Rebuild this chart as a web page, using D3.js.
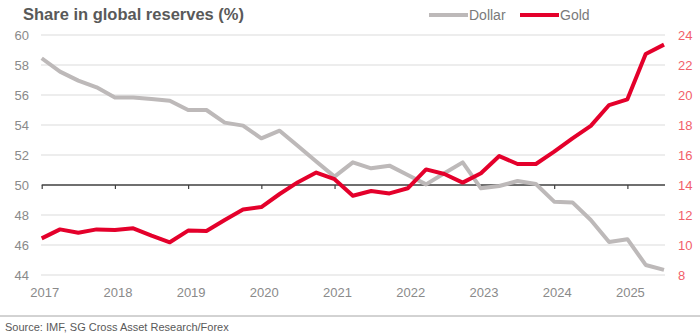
<!DOCTYPE html>
<html>
<head>
<meta charset="utf-8">
<script src="https://cdn.jsdelivr.net/npm/d3@7"></script>
<style>
  html, body { margin: 0; padding: 0; background: #fff; }
  svg { display: block; font-family: "Liberation Sans", Arial, sans-serif; }
</style>
</head>
<body>
<div id="chart"></div>
<script>
// Quarter-end observations (YYYY-MM)
const quarters = [
  "2016-12", "2017-03", "2017-06", "2017-09", "2017-12",
  "2018-03", "2018-06", "2018-09", "2018-12",
  "2019-03", "2019-06", "2019-09", "2019-12",
  "2020-03", "2020-06", "2020-09", "2020-12",
  "2021-03", "2021-06", "2021-09", "2021-12",
  "2022-03", "2022-06", "2022-09", "2022-12",
  "2023-03", "2023-06", "2023-09", "2023-12",
  "2024-03", "2024-06", "2024-09", "2024-12",
  "2025-03", "2025-06"
];

// Dollar share, left axis (%)
const dollar = [
  58.45, 57.56, 56.96, 56.51, 55.84, 55.84, 55.73, 55.62, 55.0, 55.0,
  54.16, 53.96, 53.11, 53.62, 52.6, 51.56, 50.56, 51.51, 51.11, 51.29,
  50.67, 50.04, 50.78, 51.51, 49.78, 49.93, 50.27, 50.07, 48.89, 48.84,
  47.67, 46.2, 46.39, 44.67, 44.34
];

// Gold share, right axis (%)
const gold = [
  10.44, 11.04, 10.82, 11.04, 11.0, 11.11, 10.62, 10.18, 10.96, 10.93,
  11.67, 12.36, 12.53, 13.4, 14.19, 14.83, 14.39, 13.28, 13.6, 13.44,
  13.78, 15.04, 14.73, 14.16, 14.78, 15.93, 15.4, 15.4, 16.22, 17.11,
  17.94, 19.33, 19.71, 22.73, 23.36
];

const leftTicks = [44, 46, 48, 50, 52, 54, 56, 58, 60];
const rightTicks = [8, 10, 12, 14, 16, 18, 20, 22, 24];
const yearTicks = [2017, 2018, 2019, 2020, 2021, 2022, 2023, 2024, 2025];

const width = 700;
const height = 334;

const dollarColor = "#bdb9b9";
const goldColor = "#e4002b";

const svg = d3.select("#chart")
  .append("svg")
  .attr("width", width)
  .attr("height", height);

// decimal year of a quarter-end month, e.g. 2016-12 -> 2017.0
const toYear = s => {
  const [y, m] = s.split("-").map(Number);
  return y + m / 12;
};

const x = d3.scaleLinear()
  .domain([2017, 2025.5])
  .range([41.7, 664]);

const yLeft = d3.scaleLinear()
  .domain([44, 60])
  .range([275, 35]);

const yRight = d3.scaleLinear()
  .domain([8, 24])
  .range([275, 35]);

// Horizontal grid lines
svg.append("g")
  .selectAll("line")
  .data(leftTicks.filter(t => t !== 50))
  .join("line")
  .attr("x1", 41)
  .attr("x2", 665)
  .attr("y1", d => yLeft(d))
  .attr("y2", d => yLeft(d))
  .attr("stroke", "#dcdcdc")
  .attr("stroke-width", 1.2);

// Left axis labels
svg.append("g")
  .selectAll("text")
  .data(leftTicks)
  .join("text")
  .attr("x", 29)
  .attr("y", d => yLeft(d))
  .attr("dy", "0.35em")
  .attr("text-anchor", "end")
  .attr("fill", "#8a8a8a")
  .attr("font-size", 13)
  .text(d => d);

// Right axis labels
svg.append("g")
  .selectAll("text")
  .data(rightTicks)
  .join("text")
  .attr("x", 678)
  .attr("y", d => yRight(d))
  .attr("dy", "0.35em")
  .attr("text-anchor", "start")
  .attr("fill", "#f2606a")
  .attr("font-size", 13)
  .text(d => d);

// Category axis crossing at 50
const xAxis = d3.axisBottom(x)
  .tickValues(yearTicks)
  .tickSize(4)
  .tickSizeOuter(0)
  .tickFormat("");

svg.append("g")
  .attr("transform", `translate(0, ${yLeft(50)})`)
  .call(xAxis)
  .call(g => g.select(".domain").attr("stroke", "#3f3f3f").attr("stroke-width", 1.4)
    .attr("d", `M${x(2017)},0H665`))
  .call(g => g.selectAll(".tick line").attr("stroke", "#3f3f3f").attr("stroke-width", 1.2));

// Year labels along the bottom
svg.append("g")
  .selectAll("text")
  .data(yearTicks)
  .join("text")
  .attr("x", d => x(d) + 3)
  .attr("y", 292)
  .attr("dy", "0.35em")
  .attr("text-anchor", "middle")
  .attr("fill", "#8a8a8a")
  .attr("font-size", 13)
  .text(d => d);

// Series lines
const dollarLine = d3.line()
  .x((d, i) => x(toYear(quarters[i])))
  .y(d => yLeft(d));

const goldLine = d3.line()
  .x((d, i) => x(toYear(quarters[i])))
  .y(d => yRight(d));

svg.append("path")
  .datum(dollar)
  .attr("fill", "none")
  .attr("stroke", dollarColor)
  .attr("stroke-width", 4)
  .attr("stroke-linejoin", "round")
  .attr("d", dollarLine);

svg.append("path")
  .datum(gold)
  .attr("fill", "none")
  .attr("stroke", goldColor)
  .attr("stroke-width", 4)
  .attr("stroke-linejoin", "round")
  .attr("d", goldLine);

// Title
svg.append("text")
  .attr("x", 23)
  .attr("y", 20)
  .attr("fill", "#595959")
  .attr("font-size", 16.5)
  .attr("font-weight", "bold")
  .text("Share in global reserves (%)");

// Legend
const legend = [
  { name: "Dollar", color: dollarColor, x: 429 },
  { name: "Gold", color: goldColor, x: 520 }
];

const lg = svg.append("g")
  .selectAll("g")
  .data(legend)
  .join("g")
  .attr("transform", d => `translate(${d.x}, 15)`);

lg.append("line")
  .attr("x1", 0)
  .attr("x2", 39)
  .attr("stroke", d => d.color)
  .attr("stroke-width", 4);

lg.append("text")
  .attr("x", 40)
  .attr("dy", "0.35em")
  .attr("fill", "#7a7a7a")
  .attr("font-size", 14)
  .text(d => d.name);

// Footer rule and source
svg.append("line")
  .attr("x1", 0)
  .attr("x2", width)
  .attr("y1", 316)
  .attr("y2", 316)
  .attr("stroke", "#a6a6a6")
  .attr("stroke-width", 1);

svg.append("text")
  .attr("x", 5)
  .attr("y", 327)
  .attr("dy", "0.35em")
  .attr("fill", "#595959")
  .attr("font-size", 11)
  .attr("font-family", "'Liberation Sans Narrow', 'Liberation Sans', Arial, sans-serif")
  .text("Source: IMF, SG Cross Asset Research/Forex");
</script>
</body>
</html>
